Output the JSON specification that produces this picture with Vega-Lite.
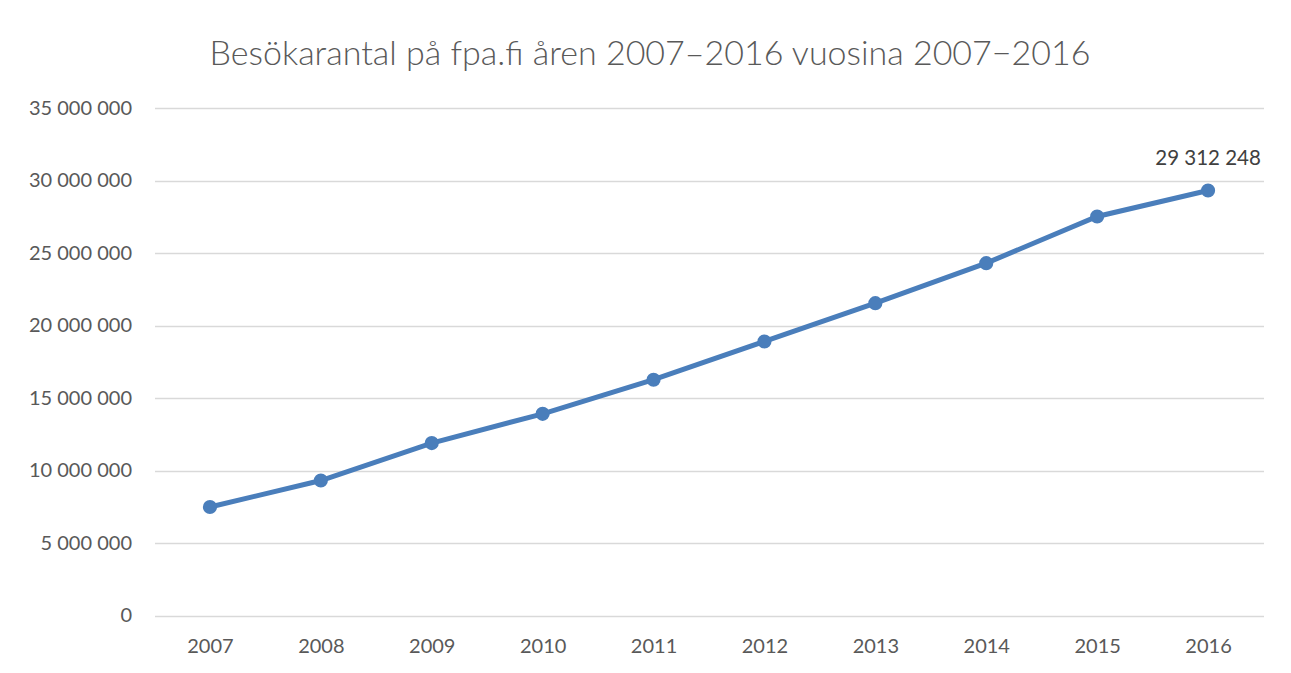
{
  "$schema": "https://vega.github.io/schema/vega-lite/v6.json",
  "width": 1109,
  "height": 507.5,
  "autosize": {"type": "none"},
  "padding": {"left": 154.5, "top": 108, "right": 27.5, "bottom": 57.5},
  "background": "white",
  "config": {
    "font": "Lato",
    "view": {"stroke": null},
    "locale": {"number": {"decimal": ",", "thousands": " ", "grouping": [3], "currency": ["", " €"]}}
  },
  "title": {
    "text": "Besökarantal på fpa.fi åren 2007–2016 vuosina 2007−2016",
    "font": "Lato",
    "fontSize": 34,
    "fontWeight": 300,
    "color": "#595959",
    "anchor": "middle",
    "dx": -59,
    "offset": 26
  },
  "data": {
    "values": [
      {"year": "2007", "visits": 7480000},
      {"year": "2008", "visits": 9310000},
      {"year": "2009", "visits": 11890000},
      {"year": "2010", "visits": 13910000},
      {"year": "2011", "visits": 16260000},
      {"year": "2012", "visits": 18900000},
      {"year": "2013", "visits": 21540000},
      {"year": "2014", "visits": 24300000},
      {"year": "2015", "visits": 27520000},
      {"year": "2016", "visits": 29312248, "label": "29 312 248"}
    ]
  },
  "encoding": {
    "x": {
      "field": "year", "type": "ordinal",
      "scale": {"type": "point", "padding": 0.5},
      "axis": {
        "title": null, "labelAngle": 0, "labelFontSize": 20, "labelColor": "#595959",
        "labelFont": "Lato", "domain": false, "ticks": false, "labelPadding": 21, "grid": false
      }
    },
    "y": {
      "field": "visits", "type": "quantitative",
      "scale": {"domain": [0, 35000000], "nice": false},
      "axis": {
        "title": null, "values": [0, 5000000, 10000000, 15000000, 20000000, 25000000, 30000000, 35000000],
        "format": ",.0f", "labelFontSize": 20, "labelColor": "#595959", "labelFont": "Lato",
        "domain": false, "ticks": false, "labelPadding": 23,
        "grid": true, "gridColor": "#d9d9d9", "gridWidth": 1.5
      }
    }
  },
  "layer": [
    {"mark": {"type": "line", "color": "#4a7ebb", "strokeWidth": 5}},
    {"mark": {"type": "point", "filled": true, "color": "#4a7ebb", "size": 200, "opacity": 1}},
    {
      "transform": [{"filter": "isValid(datum.label)"}],
      "mark": {"type": "text", "fontSize": 20.5, "color": "#404040", "dy": -31, "font": "Lato"},
      "encoding": {"text": {"field": "label"}}
    }
  ]
}
